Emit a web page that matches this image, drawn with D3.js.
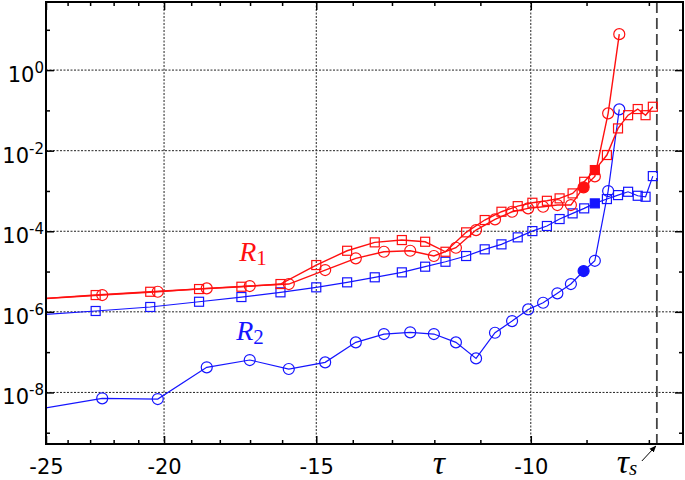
<!DOCTYPE html>
<html>
<head>
<meta charset="utf-8">
<script src="https://cdnjs.cloudflare.com/ajax/libs/d3/7.8.5/d3.min.js"></script>
<style>
  body { margin: 0; background: #fff; }
  .tick line { stroke: #000; stroke-width: 1.5; }
</style>
</head>
<body>
<script>
// tau where the markers sit (the first one is off the left edge, only its line shows)
const tauCircle = [-26, -22.48, -20.24, -18.45, -17.01, -15.80, -14.75, -13.92, -13.20, -12.56, -12.01,
  -11.52, -11.09, -10.70, -10.36, -10.05, -9.77, -9.51, -9.27, -9.05, -8.86, -8.64, -8.46];
const tauSquare = [-26, -22.76, -20.53, -18.72, -17.28, -16.05, -15.00, -14.15, -13.43, -12.76, -12.21,
  -11.75, -11.30, -10.91, -10.57, -10.25, -9.97, -9.70, -9.47, -9.24, -9.04, -8.86, -8.66, -8.48,
  -8.32, -8.17, -8.05, -7.94];

const r1Circle = [2.0e-6, 2.61e-6, 3.15e-6, 3.83e-6, 4.37e-6, 4.9e-6, 1.09e-5, 2.13e-5, 3.1e-5, 3.28e-5,
  2.43e-5, 3.9e-5, 1.07e-4, 1.97e-4, 3.05e-4, 3.7e-4, 4.06e-4, 4.47e-4, 4.47e-4, 1.23e-3, 2.3e-3,
  8.43e-2, 7.8];
const r1Square = [2.0e-6, 2.61e-6, 3.15e-6, 3.68e-6, 4.2e-6, 4.9e-6, 1.45e-5, 3.28e-5, 5.3e-5, 6.05e-5,
  5.49e-5, 3.1e-5, 9.4e-5, 1.9e-4, 3.05e-4, 4.2e-4, 5.1e-4, 5.7e-4, 6.55e-4, 8.7e-4, 1.69e-3, 3.3e-3,
  7.8e-3, 3.57e-2, 7.6e-2, 0.108, 7.6e-2, 0.123];
const r2Circle = [3.4e-9, 7.14e-9, 6.85e-9, 4.2e-8, 6.37e-8, 3.81e-8, 5.58e-8, 1.75e-7, 2.81e-7, 3.1e-7,
  2.81e-7, 1.75e-7, 7.0e-8, 3.03e-7, 5.9e-7, 1.15e-6, 1.68e-6, 2.88e-6, 4.9e-6, 1.03e-5, 1.85e-5,
  9.95e-4, 0.106];
const r2Square = [8.0e-7, 1.05e-6, 1.32e-6, 1.78e-6, 2.33e-6, 3.05e-6, 4.06e-6, 5.4e-6, 7.2e-6, 9.55e-6,
  1.32e-5, 1.75e-5, 2.43e-5, 3.56e-5, 4.73e-5, 7.06e-5, 1.01e-4, 1.35e-4, 2.01e-4, 2.78e-4, 3.7e-4,
  4.92e-4, 6.3e-4, 7.9e-4, 9.55e-4, 7.6e-4, 7.18e-4, 2.34e-3];

// filled marker positions
const filledCircleTau = -9.05;
const filledSquareTau = -8.86;

const xMajor = [-25, -20, -15, -10];
const xMinor = [-24, -23, -22, -21, -19, -18, -17, -16, -14, -13, -12, -11, -9, -8];
const yMajor = [0, -2, -4, -6, -8];      // decades with labels
const yMinor = [1, -1, -3, -5, -7, -9];
const tauS = -7.88;

let w = 685, h = 480;
let margin = {top: 2, right: 2, bottom: 36, left: 46};
let width = w - margin.left - margin.right, height = h - margin.top - margin.bottom;
let sans = "DejaVu Sans", serif = "Liberation Serif";

// x axis is log(-tau), reversed
let xScale = d3.scaleLog().domain([25, 7.5]).range([0, width]);
let yScale = d3.scaleLog().domain([Math.pow(10, -9.28), Math.pow(10, 1.69)]).range([height, 0]);
let px = t => xScale(-t);

let svg = d3.select("body").append("svg").attr("width", w).attr("height", h);

let defs = svg.append("defs");
defs.append("clipPath").attr("id", "clip")
  .append("rect").attr("width", width).attr("height", height);
defs.append("marker").attr("id", "arrow")
  .attr("viewBox", "0 0 10 10").attr("refX", 9).attr("refY", 5)
  .attr("markerWidth", 7).attr("markerHeight", 7).attr("orient", "auto")
  .append("path").attr("d", "M0,1L10,5L0,9Z").attr("fill", "#000");

let g = svg.append("g").attr("transform", "translate(" + margin.left + "," + margin.top + ")");

// grid
g.selectAll(".vgrid").data(xMajor.slice(1)).enter().append("line")
  .attr("x1", d => px(d)).attr("x2", d => px(d))
  .attr("y1", 0).attr("y2", height)
  .attr("stroke", "#222").attr("stroke-width", 1).attr("stroke-dasharray", "2,1.5");
g.selectAll(".hgrid").data(yMajor).enter().append("line")
  .attr("x1", 0).attr("x2", width)
  .attr("y1", d => yScale(Math.pow(10, d))).attr("y2", d => yScale(Math.pow(10, d)))
  .attr("stroke", "#222").attr("stroke-width", 1).attr("stroke-dasharray", "2,1.5");

// ticks (inward) on all four sides
function addAxis(axis, tr) {
  let a = g.append("g").attr("transform", tr).call(axis);
  a.select(".domain").remove();
  return a;
}
let xMajMag = xMajor.map(d => -d), xMinMag = xMinor.map(d => -d);
let yMajV = yMajor.map(e => Math.pow(10, e)), yMinV = yMinor.map(e => Math.pow(10, e));

let xb = addAxis(d3.axisBottom(xScale).tickValues(xMajMag).tickSize(-8).tickPadding(15)
  .tickFormat(d => String(-d)), "translate(0," + height + ")");
xb.attr("font-size", null).attr("font-family", null);
xb.selectAll("text").style("font-size", "21px").style("font-family", sans).attr("fill", "#000");
addAxis(d3.axisBottom(xScale).tickValues(xMinMag).tickSize(-4).tickFormat(""), "translate(0," + height + ")");
addAxis(d3.axisTop(xScale).tickValues(xMajMag).tickSize(-8).tickFormat(""), "translate(0,0)");
addAxis(d3.axisTop(xScale).tickValues(xMinMag).tickSize(-4).tickFormat(""), "translate(0,0)");
addAxis(d3.axisLeft(yScale).tickValues(yMajV).tickSize(-8).tickFormat(""), "translate(0,0)");
addAxis(d3.axisLeft(yScale).tickValues(yMinV).tickSize(-4).tickFormat(""), "translate(0,0)");
addAxis(d3.axisRight(yScale).tickValues(yMajV).tickSize(-8).tickFormat(""), "translate(" + width + ",0)");
addAxis(d3.axisRight(yScale).tickValues(yMinV).tickSize(-4).tickFormat(""), "translate(" + width + ",0)");

// y labels 10^n
let ylab = g.selectAll(".ylab").data(yMajor).enter().append("text")
  .attr("x", -2).attr("y", d => yScale(Math.pow(10, d)) + 12)
  .attr("text-anchor", "end").style("font-family", sans).style("font-size", "21px").attr("fill", "#000");
ylab.append("tspan").text("10");
ylab.append("tspan").style("font-size", "15px").attr("dy", -9).text(d => String(d));

// tau_s dashed line
g.append("line")
  .attr("x1", px(tauS)).attr("x2", px(tauS)).attr("y1", 0).attr("y2", height)
  .attr("stroke", "#444").attr("stroke-width", 1.8).attr("stroke-dasharray", "11,5");

// series
let series = [
  {tau: tauSquare, v: r2Square, color: "#1515ff", shape: "square", filled: filledSquareTau, lw: 1.2},
  {tau: tauCircle, v: r2Circle, color: "#1515ff", shape: "circle", filled: filledCircleTau, lw: 1.2},
  {tau: tauSquare, v: r1Square, color: "#ff1010", shape: "square", filled: filledSquareTau, lw: 1.4},
  {tau: tauCircle, v: r1Circle, color: "#ff1010", shape: "circle", filled: filledCircleTau, lw: 1.4}
];

let line = d3.line().x(d => px(d.t)).y(d => yScale(d.v));
let plot = g.append("g").attr("clip-path", "url(#clip)");

series.forEach(function (s) {
  let pts = s.tau.map((t, i) => ({t: t, v: s.v[i]}));
  plot.append("path").datum(pts)
    .attr("d", line).attr("fill", "none")
    .attr("stroke", s.color).attr("stroke-width", s.lw);
  if (s.shape == "circle") {
    plot.selectAll(null).data(pts).enter().append("circle")
      .attr("cx", d => px(d.t)).attr("cy", d => yScale(d.v))
      .attr("r", 5.5)
      .attr("fill", d => d.t == s.filled ? s.color : "none")
      .attr("stroke", s.color).attr("stroke-width", 1.2);
  } else {
    plot.selectAll(null).data(pts).enter().append("rect")
      .attr("x", d => px(d.t) - 4.5).attr("y", d => yScale(d.v) - 4.5)
      .attr("width", 9).attr("height", 9)
      .attr("fill", d => d.t == s.filled ? s.color : "none")
      .attr("stroke", s.color).attr("stroke-width", 1.2);
  }
});

// frame
g.append("rect").attr("width", width).attr("height", height)
  .attr("fill", "none").attr("stroke", "#000").attr("stroke-width", 2);

// labels R1, R2
function rLabel(x, y, sub, color) {
  let t = g.append("text").attr("x", x).attr("y", y).attr("fill", color)
    .style("font-family", serif);
  t.append("tspan").style("font-style", "italic").style("font-size", "28px").text("R");
  t.append("tspan").style("font-size", "21px").attr("dy", 4).text(sub);
}
rLabel(px(-17.35), 259, "1", "#ff1010");
rLabel(px(-17.45), 338, "2", "#1515ff");

// tau labels under the axis
g.append("text").attr("x", px(-11.9)).attr("y", height + 30)
  .attr("text-anchor", "middle").style("font-family", serif)
  .style("font-style", "italic").style("font-size", "34px").text("τ");
let ts = g.append("text").attr("x", px(tauS) - 40).attr("y", height + 29)
  .style("font-family", serif).style("font-style", "italic");
ts.append("tspan").style("font-size", "34px").text("τ");
ts.append("tspan").style("font-size", "21px").attr("dy", 2).text("s");

g.append("line")
  .attr("x1", px(tauS) - 15).attr("y1", height + 17)
  .attr("x2", px(tauS) - 1).attr("y2", height + 2)
  .attr("stroke", "#000").attr("stroke-width", 1)
  .attr("marker-end", "url(#arrow)");
</script>
</body>
</html>
